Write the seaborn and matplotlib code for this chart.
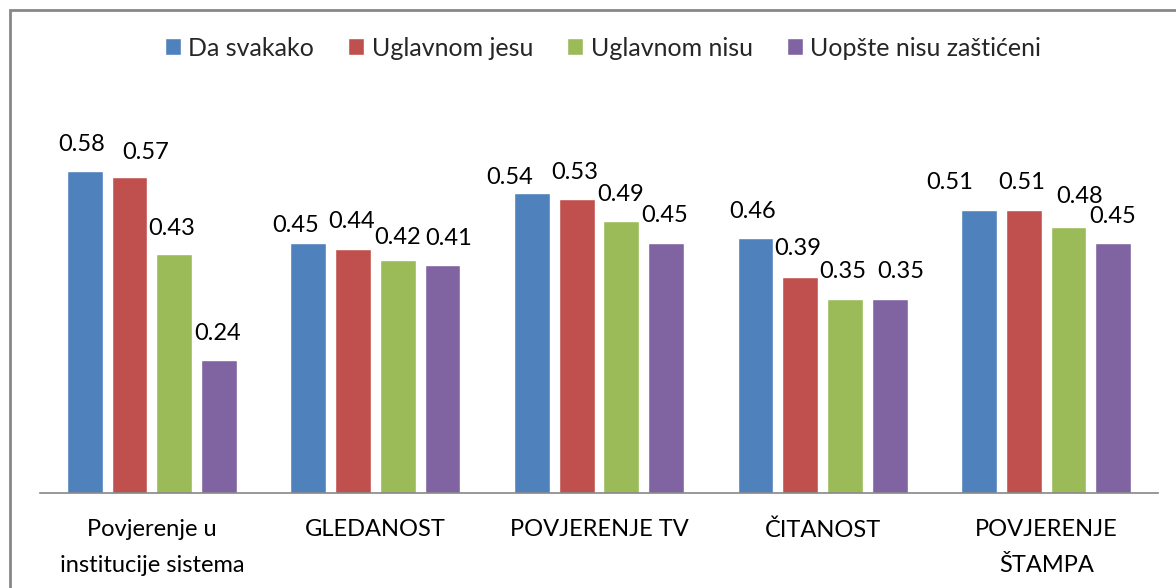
import matplotlib
matplotlib.use("Agg")
import matplotlib.pyplot as plt
import seaborn as sns
import pandas as pd
from matplotlib.patches import Rectangle

categories = ["Povjerenje u\ninstitucije sistema", "GLEDANOST", "POVJERENJE TV", "ČITANOST", "POVJERENJE\nŠTAMPA"]
series = ["Da svakako", "Uglavnom jesu", "Uglavnom nisu", "Uopšte nisu zaštićeni"]
da_svakako = [0.58, 0.45, 0.54, 0.46, 0.51]
uglavnom_jesu = [0.57, 0.44, 0.53, 0.39, 0.51]
uglavnom_nisu = [0.43, 0.42, 0.49, 0.35, 0.48]
uopste_nisu = [0.24, 0.41, 0.45, 0.35, 0.45]
colors = ["#4F81BD", "#C0504D", "#9BBB59", "#8064A2"]

# label nudges (pixels) as placed in the original chart: horizontal shift, height of label centre above bar
label_dx = [[-3, -13, -22, -3, -29],
            [16, -1, -2, -2, -2],
            [-2, 0, -1, -2, 11],
            [-1, 6, -1, 11, -1]]
label_dy = [[27, 18, 16, 26, 27],
            [24, 27, 26, 28, 27],
            [26, 22, 27, 27, 30],
            [26, 27, 28, 27, 27]]

rows = []
for s, vals in zip(series, [da_svakako, uglavnom_jesu, uglavnom_nisu, uopste_nisu]):
    for c, v in zip(categories, vals):
        rows.append({"cat": c, "series": s, "val": v})
df = pd.DataFrame(rows)

sns.set_theme(style="white")
plt.rcParams['font.family'] = ['Lato', 'DejaVu Sans']

FS = 17
fig = plt.figure(figsize=(11.76, 5.88), dpi=100)
W, H = 1176, 588
ax = fig.add_axes([40 / W, 1 - 493 / H, 1118 / W, (493 - 104.5) / H])

sns.barplot(data=df, x="cat", y="val", hue="series", order=categories, hue_order=series,
            palette=colors, width=0.8, gap=0.2, ax=ax, saturation=1, legend=True, errorbar=None)

ax.set_ylim(0, 0.7)
ax.set_xlim(-0.5, len(categories) - 0.5)
ax.set_xlabel("")
ax.set_ylabel("")
ax.set_yticks([])
ax.tick_params(axis="x", length=0, pad=19, labelsize=FS, labelcolor="black")
for lbl in ax.get_xticklabels():
    lbl.set_linespacing(1.85)
for sp in ["top", "right", "left"]:
    ax.spines[sp].set_visible(False)
ax.spines["bottom"].set_color("#868686")
ax.spines["bottom"].set_linewidth(1.2)

for si, cont in enumerate(ax.containers):
    for ci, (patch, v) in enumerate(zip(cont.patches, cont.datavalues)):
        xc = patch.get_x() + patch.get_width() / 2
        ax.annotate(f"{v:.2f}", xy=(xc, v), xytext=(label_dx[si][ci], label_dy[si][ci]),
                    textcoords="offset pixels", ha="center", va="center",
                    fontsize=FS, color="black")

leg = ax.legend(loc="center", bbox_to_anchor=(603 / W, 1 - 48 / H), bbox_transform=fig.transFigure,
                ncol=4, frameon=False, fontsize=18, handlelength=0.64, handleheight=0.64,
                columnspacing=1.36, handletextpad=0.3)

# outer border (left and top visible)
fig.patches.append(Rectangle((10 / W, -0.1), 1.2, 1.1 - 10 / H, transform=fig.transFigure,
                             fill=False, edgecolor="#878787", linewidth=2))

fig.savefig("out.png", dpi=100)
